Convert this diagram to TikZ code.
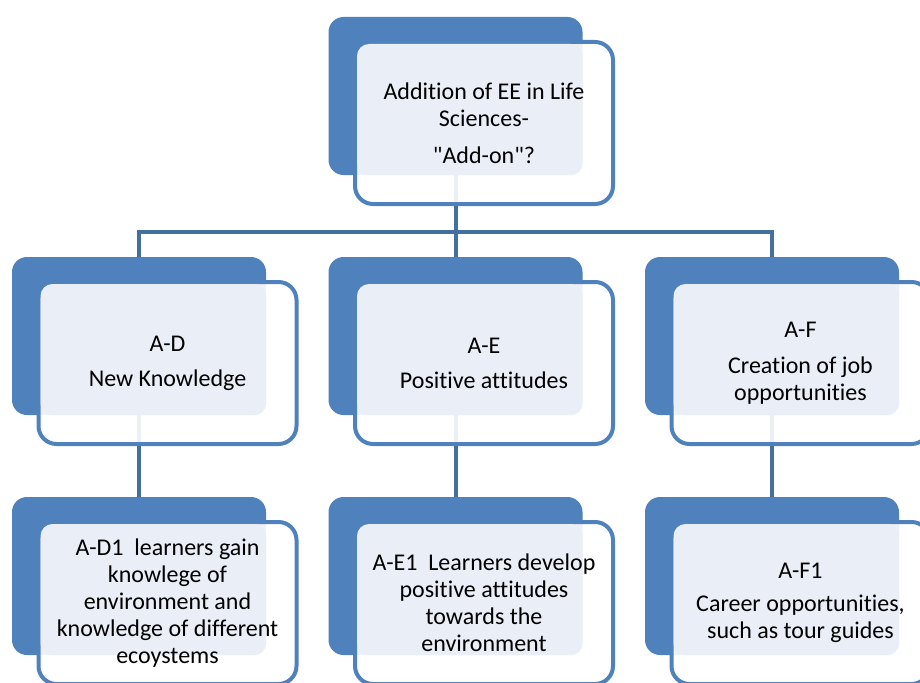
\documentclass[tikz,border=0pt]{standalone}
\usepackage{fontspec}
\setmainfont{Carlito}[Ligatures={NoCommon}]
\usetikzlibrary{backgrounds}
\definecolor{boxblue}{HTML}{4F81BD}
\definecolor{linkblue}{HTML}{43709F}
\definecolor{paleblue}{HTML}{EAEFF7}
\tikzstyle{backbox} = [rectangle, rounded corners=15pt, fill=boxblue,
                       minimum width=254pt, minimum height=158pt,
                       inner sep=0pt]
\tikzstyle{frontbox} = [rectangle, rounded corners=18pt, draw=boxblue,
                        line width=4pt, fill=white, fill opacity=0.9,
                        minimum width=258pt, minimum height=162pt,
                        inner sep=0pt]
\tikzstyle{pale} = [fill=paleblue, rounded corners=12pt]
\tikzstyle{boxtext} = [align=center, text=black,
                       font=\fontsize{24}{27}\selectfont]
\tikzstyle{link} = [draw=linkblue, line width=4pt]
% one entry of the chart: back plate, framed card, pale panel, text
\newcommand{\eebox}[4]{%
  \node[backbox] (#1b) at (#2,#3) {};
  \node[frontbox] (#1f) at ([shift={(28.5,27)}]#1b.center) {};
  \fill[pale] ([shift={(4,4)}]#1f.north west) rectangle (#1b.south east);
  \node[boxtext] (#1) at (#1f.center) {#4};
}

\begin{document}
\begin{tikzpicture}[x=1pt, y=-1pt]
  \useasboundingbox (0,0) rectangle (920,682);
  \clip (0,0) rectangle (920,682);
  \eebox{top}{455.5}{96}{Addition of EE in Life\\Sciences-\\[10pt]\textquotedbl Add-on\textquotedbl ?}
  \eebox{ad}{139}{336}{A-D\\[8pt]New Knowledge}
  \eebox{ae}{455.5}{336}{A-E\\[8pt]Positive attitudes}
  \eebox{af}{772}{336}{A-F\\[9pt]Creation of job\\opportunities}
  \eebox{adone}{139}{576}{A-D1\ \ learners gain\\knowlege of\\environment and\\knowledge of different\\ecoystems}
  \eebox{aeone}{455.5}{576}{A-E1\ \ Learners develop\\positive attitudes\\towards the\\environment}
  \eebox{afone}{772}{576}{A-F1\\[6pt]Career opportunities,\\such as tour guides}
  \coordinate (bus) at (455.5,232);
  \begin{pgfonlayer}{background}
    \draw[link] (topb.south) -- (bus);
    \draw[link] (adb.north) -- (adb.north |- bus) -- (afb.north |- bus) -- (afb.north);
    \draw[link] (aeb.north) -- (aeb.north |- bus);
    \draw[link] (adb.south) -- (adoneb.north);
    \draw[link] (aeb.south) -- (aeoneb.north);
    \draw[link] (afb.south) -- (afoneb.north);
  \end{pgfonlayer}
\end{tikzpicture}
\end{document}
